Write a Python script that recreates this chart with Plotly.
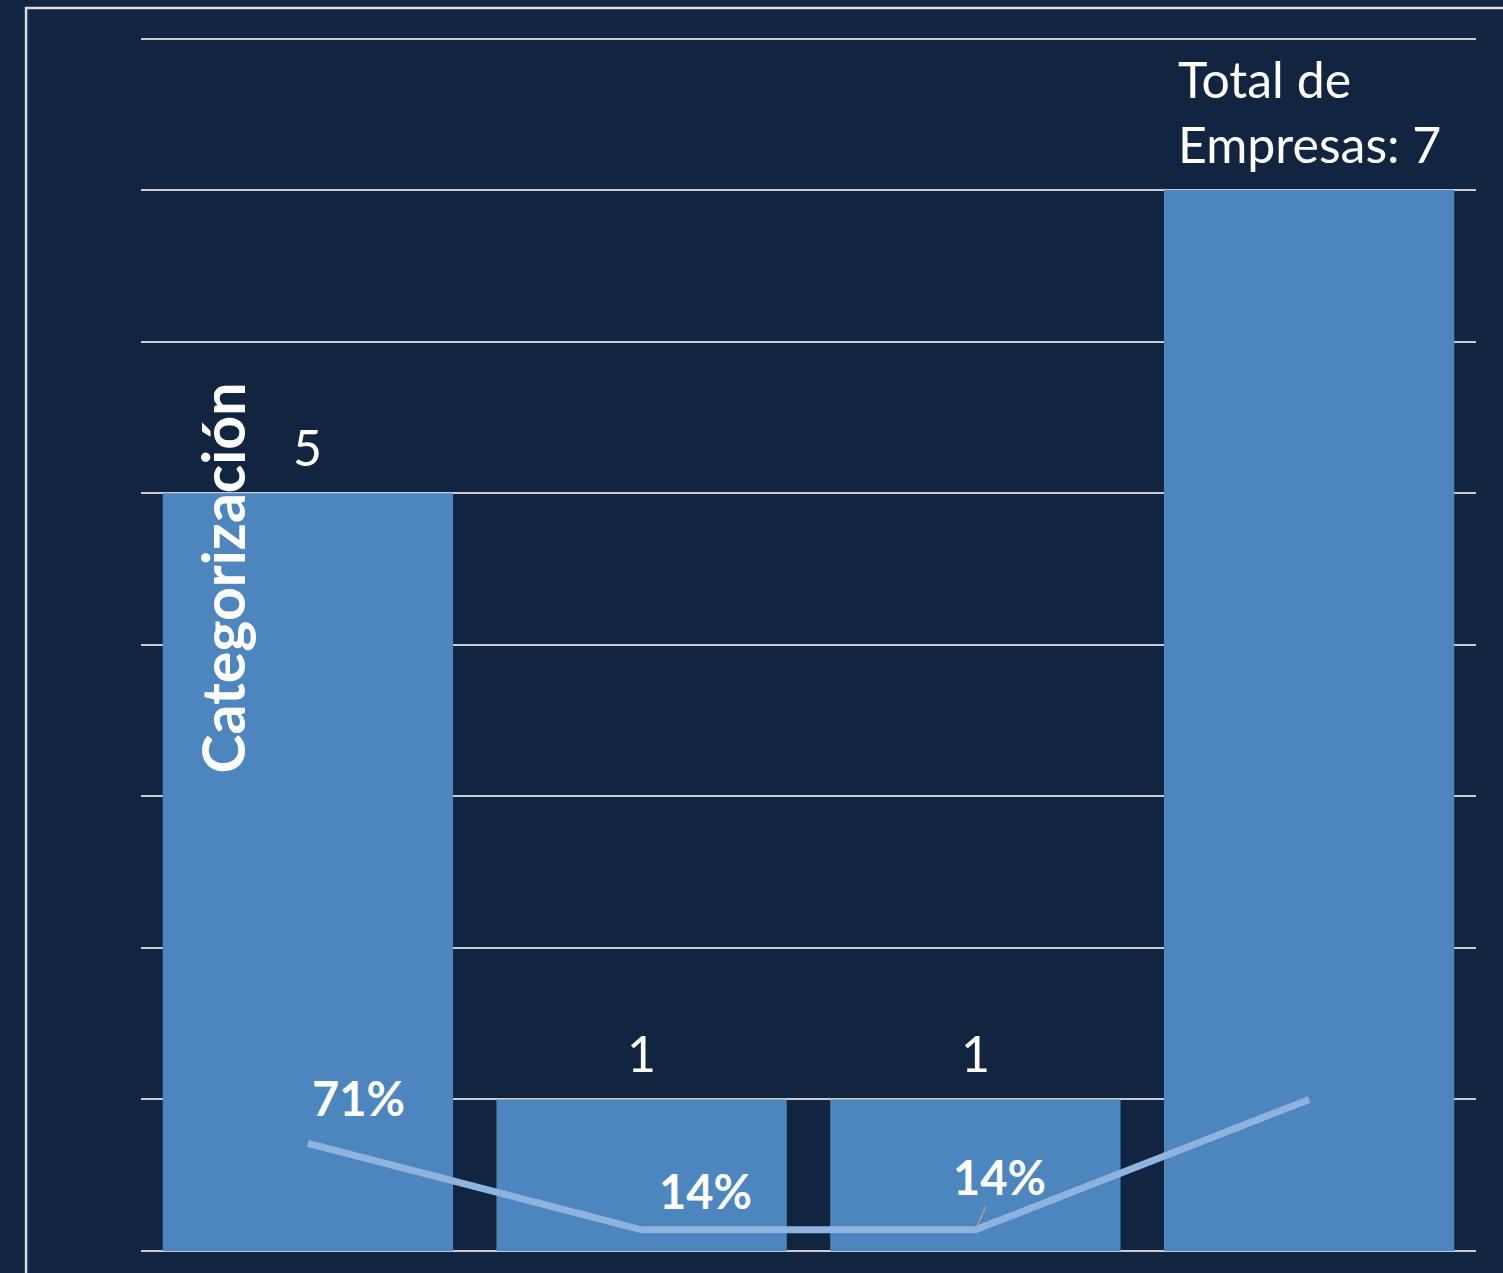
import plotly.graph_objects as go

categories = ["A", "B", "C", "Total"]
counts = [5, 1, 1, 7]
count_labels = ["5", "1", "1", "Total de<br>Empresas: 7"]
pct_values = [0.71, 0.14, 0.14, 1.0]
pct_labels = ["71%", "14%", "14%", ""]
pct_offsets = [(51, 45), (64, 39), (24, 53), (0, 0)]

BG = "#112440"
fig = go.Figure()

fig.add_trace(go.Bar(
    x=categories, y=counts,
    marker=dict(color="#4d86be", line=dict(width=0)),
    hoverinfo="skip", showlegend=False,
))

fig.add_trace(go.Scatter(
    x=categories, y=pct_values, yaxis="y2", mode="lines",
    line=dict(color="#8fb3df", width=7),
    hoverinfo="skip", showlegend=False,
))

annotations = []
for c, v, t in zip(categories, counts, count_labels):
    annotations.append(dict(
        x=c, y=v, xref="x", yref="y", text=t, showarrow=False,
        align="left", yanchor="bottom", yshift=14,
        font=dict(family="Lato", size=50, color="white"),
    ))

for i, (c, v, t) in enumerate(zip(categories, pct_values, pct_labels)):
    if not t:
        continue
    dx, dy = pct_offsets[i]
    if i == 2:
        annotations.append(dict(
            x=c, y=v, xref="x", yref="y2", text=t, showarrow=True,
            arrowhead=0, arrowwidth=1.5, arrowcolor="#a0a0a0",
            ax=dx, ay=-dy, standoff=0,
            font=dict(family="Lato", size=47, color="white", weight="bold"),
        ))
    else:
        annotations.append(dict(
            x=c, y=v, xref="x", yref="y2", text=t, showarrow=False,
            xshift=dx, yshift=dy,
            font=dict(family="Lato", size=47, color="white", weight="bold"),
        ))

annotations.append(dict(
    x=0.0607, y=0.554, xref="paper", yref="paper", text="Categorización",
    textangle=-90, showarrow=False, xanchor="center", yanchor="middle",
    font=dict(family="Lato", size=59, color="white", weight="bold"),
))

fig.update_layout(
    width=1503, height=1273,
    margin=dict(l=141, r=27, t=37, b=22),
    paper_bgcolor=BG, plot_bgcolor=BG,
    bargap=0.13,
    xaxis=dict(showticklabels=False, showgrid=False, zeroline=False, showline=False, ticks=""),
    yaxis=dict(range=[0, 8.01], dtick=1, showticklabels=False, showgrid=True,
               gridcolor="#c8ccd2", gridwidth=1.5, zeroline=True,
               zerolinecolor="#c8ccd2", zerolinewidth=1.5, showline=False, ticks=""),
    yaxis2=dict(range=[0, 8.01], overlaying="y", showticklabels=False, showgrid=False,
                zeroline=False, showline=False, ticks=""),
    annotations=annotations,
    shapes=[dict(type="rect", xref="paper", yref="paper",
                 x0=-0.0861, x1=1.2, y0=-0.2, y1=1.0239,
                 line=dict(color="#dcdcdc", width=2.5), fillcolor="rgba(0,0,0,0)",
                 layer="below")],
)

fig.write_html(
    "out.html",
    config={"displayModeBar": False},
    post_script="document.body.style.margin='0';document.body.style.backgroundColor='#112440';",
)
